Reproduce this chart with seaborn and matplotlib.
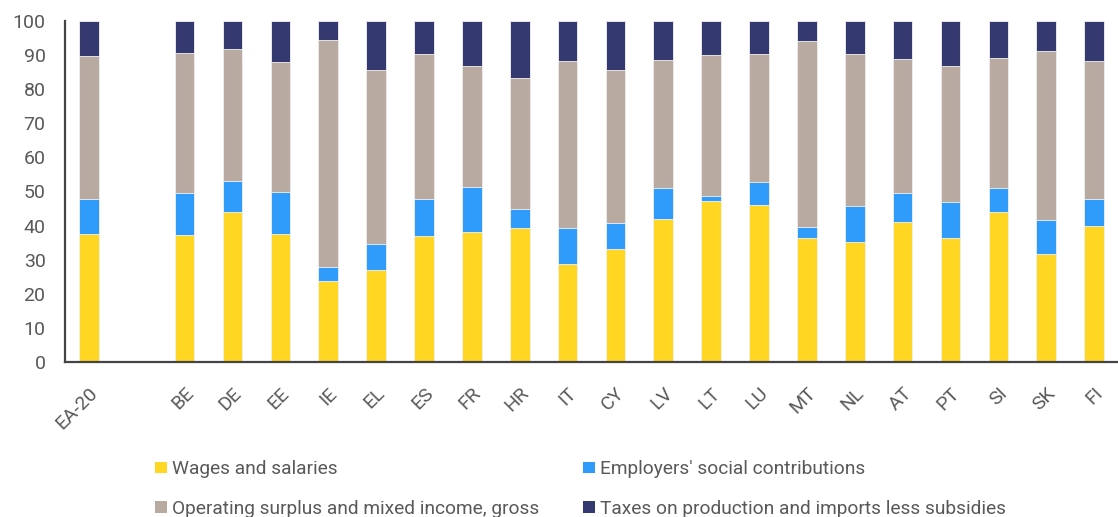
import numpy as np
import pandas as pd
import matplotlib
matplotlib.use("Agg")
import matplotlib.pyplot as plt
from matplotlib.patches import Patch
import seaborn as sns

# Income components of GDP, % of total
countries = ["EA-20", "BE", "DE", "EE", "IE", "EL", "ES", "FR", "HR", "IT", "CY",
             "LV", "LT", "LU", "MT", "NL", "AT", "PT", "SI", "SK", "FI"]
wages = [37.4, 37.2, 44.0, 37.4, 23.7, 26.9, 37.0, 38.0, 39.2, 28.8, 33.2,
         41.8, 47.2, 45.9, 36.4, 35.3, 41.0, 36.3, 44.0, 31.6, 39.8]
employers = [10.3, 12.3, 9.1, 12.4, 4.2, 7.6, 10.8, 13.2, 5.7, 10.6, 7.7,
             9.1, 1.6, 6.8, 3.2, 10.4, 8.7, 10.6, 7.0, 10.0, 8.0]
operating = [42.0, 41.2, 38.7, 38.3, 66.6, 51.0, 42.5, 35.6, 38.4, 49.0, 44.7,
             37.8, 41.3, 37.5, 54.4, 44.7, 39.2, 39.8, 38.2, 49.5, 40.4]
taxes = [10.3, 9.3, 8.2, 11.9, 5.5, 14.5, 9.7, 13.2, 16.7, 11.6, 14.4,
         11.3, 9.9, 9.8, 6.0, 9.6, 11.1, 13.3, 10.8, 8.9, 11.8]

series_names = ["Wages and salaries", "Employers' social contributions",
                "Operating surplus and mixed income, gross",
                "Taxes on production and imports less subsidies"]
colors = ["#FFD622", "#2F9BFB", "#B8A9A1", "#343A70"]

# slot order, with an empty slot after the euro area aggregate
order = ["EA-20", " "] + countries[1:]

df = pd.DataFrame({"country": countries, "w": wages, "e": employers,
                   "o": operating, "t": taxes})
df["c1"] = df["w"]
df["c2"] = df["c1"] + df["e"]
df["c3"] = df["c2"] + df["o"]
df["c4"] = df["c3"] + df["t"]

sns.set_theme(style="white")
plt.rcParams["font.family"] = ["Roboto", "DejaVu Sans"]

grey = "#595959"
fig = plt.figure(figsize=(11.18, 5.17), dpi=100)
ax = fig.add_axes([65 / 1118, 1 - 362 / 517, 1 - 65 / 1118, 341 / 517])

# stacked bars drawn as cumulative totals, tallest first
for col, colr in zip(["c4", "c3", "c2", "c1"], colors[::-1]):
    sns.barplot(data=df, x="country", y=col, order=order, color=colr,
                width=0.41, saturation=1, edgecolor="#F2F2F2", linewidth=0.6,
                ax=ax, errorbar=None)

ax.set_xlim(-0.5, 21.35)
ax.set_ylim(0, 100)
ax.set_yticks(np.arange(0, 101, 10))
ax.set_xlabel("")
ax.set_ylabel("")

for side in ["top", "right"]:
    ax.spines[side].set_visible(False)
for side in ["left", "bottom"]:
    ax.spines[side].set_color("#444444")
    ax.spines[side].set_linewidth(1.6)

ax.tick_params(axis="y", direction="in", length=6, width=1.2, color="#444444",
               labelsize=14, labelcolor=grey, pad=14)
ax.tick_params(axis="x", which="major", length=0, labelsize=14,
               labelcolor=grey, pad=16)
ax.set_xticks(np.arange(len(order)) + 0.5, minor=True)
ax.tick_params(axis="x", which="minor", direction="in", length=5, width=1.2,
               color="#444444")
ax.set_xticks(np.arange(len(order)))
ax.set_xticklabels(order, rotation=45, ha="right", rotation_mode="anchor")

handles = [Patch(facecolor=c, edgecolor="none") for c in colors]
leg_kw = dict(frameon=False, fontsize=13.8, handlelength=0.6,
              handleheight=0.55, handletextpad=0.29, labelspacing=1.12,
              labelcolor=grey, borderaxespad=0, borderpad=0, loc="upper left")
leg1 = fig.legend([handles[0], handles[2]], [series_names[0], series_names[2]],
                  bbox_to_anchor=(155 / 1118, 0.110), **leg_kw)
leg2 = fig.legend([handles[1], handles[3]], [series_names[1], series_names[3]],
                  bbox_to_anchor=(583 / 1118, 0.110), **leg_kw)

fig.savefig("out.png", dpi=100)
